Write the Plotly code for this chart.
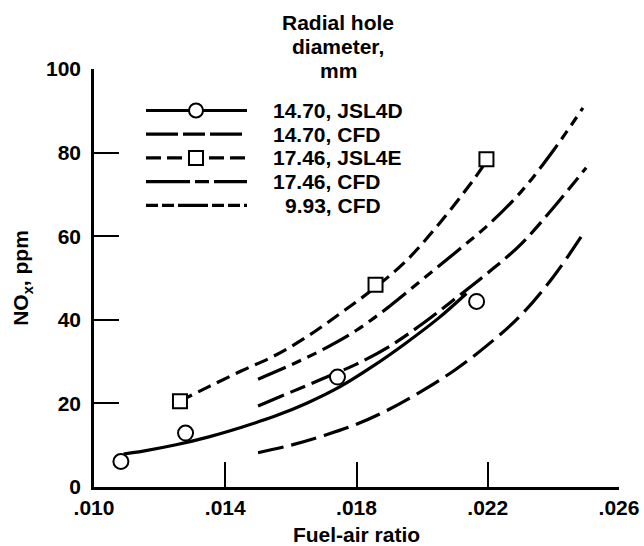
import plotly.graph_objects as go

# ---------------- data ----------------
x_tickvals = [0.010, 0.014, 0.018, 0.022, 0.026]
x_ticktext = [".010", ".014", ".018", ".022", ".026"]
y_tickvals = [0, 20, 40, 60, 80, 100]

# 14.70 mm, JSL4D measurements and fitted curve
jsl4d_x = [0.01082, 0.01279, 0.01742, 0.02166]
jsl4d_y = [6.1, 12.9, 26.3, 44.4]
jsl4d_fit_x = [0.0109, 0.0115, 0.0125, 0.0135, 0.0145, 0.0155, 0.0165, 0.0175, 0.0185, 0.0195, 0.0205, 0.02135]
jsl4d_fit_y = [7.9, 8.6, 10.1, 12.0, 14.3, 16.9, 20.1, 24.0, 28.9, 34.4, 40.4, 46.3]

# 14.70 mm, CFD
cfd1470_x = [0.0150, 0.0160, 0.0170, 0.0180, 0.0190, 0.0200, 0.0210, 0.0220, 0.0230, 0.0240, 0.0250]
cfd1470_y = [19.4, 22.7, 26.0, 29.4, 33.6, 39.0, 45.0, 51.2, 58.0, 66.8, 76.4]

# 17.46 mm, JSL4E measurements and fitted curve
jsl4e_x = [0.01262, 0.01858, 0.02196]
jsl4e_y = [20.5, 48.4, 78.4]
jsl4e_fit_x = [0.0126, 0.0135, 0.0145, 0.0155, 0.0165, 0.0175, 0.0185, 0.0195, 0.0205, 0.0215, 0.0220]
jsl4e_fit_y = [20.5, 24.0, 27.8, 31.4, 36.0, 41.5, 47.3, 54.0, 62.8, 72.8, 78.4]

# 17.46 mm, CFD
cfd1746_x = [0.0150, 0.0160, 0.0170, 0.0180, 0.0190, 0.0200, 0.0210, 0.0220, 0.0230, 0.0240, 0.0249]
cfd1746_y = [25.8, 29.2, 33.0, 37.5, 43.2, 49.6, 56.0, 62.6, 70.5, 80.5, 90.7]

# 9.93 mm, CFD
cfd993_x = [0.0150, 0.0160, 0.0170, 0.0180, 0.0190, 0.0200, 0.0210, 0.0220, 0.0230, 0.0240, 0.0249]
cfd993_y = [8.2, 10.0, 12.3, 15.0, 18.6, 23.0, 28.0, 34.0, 41.0, 50.3, 60.5]

legend_labels = ["14.70, JSL4D", "14.70, CFD", "17.46, JSL4E", "17.46, CFD", "9.93, CFD"]
key_title = ["Radial hole", "diameter,", "mm"]

# ---------------- styles ----------------
FONT = "Liberation Sans, Arial, Helvetica, sans-serif"
FS = 21
LW = 3.2
dash_1470 = "28px,7px,16px,7px"
dash_jsl4e = "14px,7px"
dash_1746 = "30px,7px,10px,7px,10px,7px"
dash_993 = "26px,8px"

def font():
    return dict(family=FONT, size=FS, color="black", weight="bold")

fig = go.Figure()

def line(x, y, dash, name):
    fig.add_trace(go.Scatter(x=x, y=y, mode="lines", name=name, showlegend=False,
                             line=dict(color="black", width=LW, dash=dash, shape="spline")))

line(jsl4d_fit_x, jsl4d_fit_y, "solid", legend_labels[0])
line(cfd1470_x, cfd1470_y, dash_1470, legend_labels[1])
line(jsl4e_fit_x, jsl4e_fit_y, dash_jsl4e, legend_labels[2])
line(cfd1746_x, cfd1746_y, dash_1746, legend_labels[3])
line(cfd993_x, cfd993_y, dash_993, legend_labels[4])

fig.add_trace(go.Scatter(x=jsl4d_x, y=jsl4d_y, mode="markers", showlegend=False, name=legend_labels[0],
                         marker=dict(symbol="circle", size=15, color="white",
                                     line=dict(color="black", width=2))))
fig.add_trace(go.Scatter(x=jsl4e_x, y=jsl4e_y, mode="markers", showlegend=False, name=legend_labels[2],
                         marker=dict(symbol="square", size=14, color="white",
                                     line=dict(color="black", width=2))))

# ---------------- key (drawn in paper space) ----------------
L, R, T, B = 94, 25, 69, 59
W, H = 644 - L - R, 546 - T - B

def px(xp):
    return (xp - L) / W

def py(yp):
    return (546 - B - yp) / H

row_y = [110.5, 134.2, 157.9, 181.6, 205.3]
key_dash = ["solid", "32px,5px,22px,5px", "15px,6px", "44px,5px,14px,5px", "12px,4px,12px,4px,30px,4px"]
key_text_x = [271, 271, 271, 271, 283]
shapes = []
annotations = []
for i, lab in enumerate(legend_labels):
    yy = py(row_y[i])
    shapes.append(dict(type="line", xref="paper", yref="paper", x0=px(146), x1=px(247), y0=yy, y1=yy,
                       line=dict(color="black", width=LW, dash=key_dash[i])))
    annotations.append(dict(text=lab, xref="paper", yref="paper", x=px(key_text_x[i]), y=yy,
                            xanchor="left", yanchor="middle", showarrow=False, font=font()))
# key markers
for i, kind in [(0, "circle"), (2, "rect")]:
    shapes.append(dict(type=kind, xref="paper", yref="paper",
                       xsizemode="pixel", ysizemode="pixel",
                       xanchor=px(196), yanchor=py(row_y[i]),
                       x0=-7, x1=7, y0=-7, y1=7,
                       fillcolor="white", line=dict(color="black", width=2)))

title_y = [22.6, 46.3, 70.5]
for t, yy in zip(key_title, title_y):
    annotations.append(dict(text=t, xref="paper", yref="paper", x=px(338), y=py(yy),
                            xanchor="center", yanchor="middle", showarrow=False, font=font()))

axis_common = dict(showline=True, linecolor="black", linewidth=2.5, mirror=False,
                   ticks="inside", ticklen=25, tickwidth=2, tickcolor="black",
                   showgrid=False, zeroline=False, tickfont=font(), automargin=False)

fig.update_layout(
    width=644, height=546,
    margin=dict(l=L, r=R, t=T, b=B),
    paper_bgcolor="white", plot_bgcolor="white",
    font=font(),
    showlegend=False,
    shapes=shapes, annotations=annotations,
    xaxis=dict(range=[0.010, 0.026], tickvals=x_tickvals, ticktext=x_ticktext,
               title=dict(text="Fuel-air ratio", standoff=14, font=font()),
               **axis_common),
    yaxis=dict(range=[0, 100], tickvals=y_tickvals, ticklabelstandoff=6,
               title=dict(text="NO<sub>x</sub>, ppm", standoff=12, font=font()),
               **axis_common),
)

fig.write_html("out.html")
